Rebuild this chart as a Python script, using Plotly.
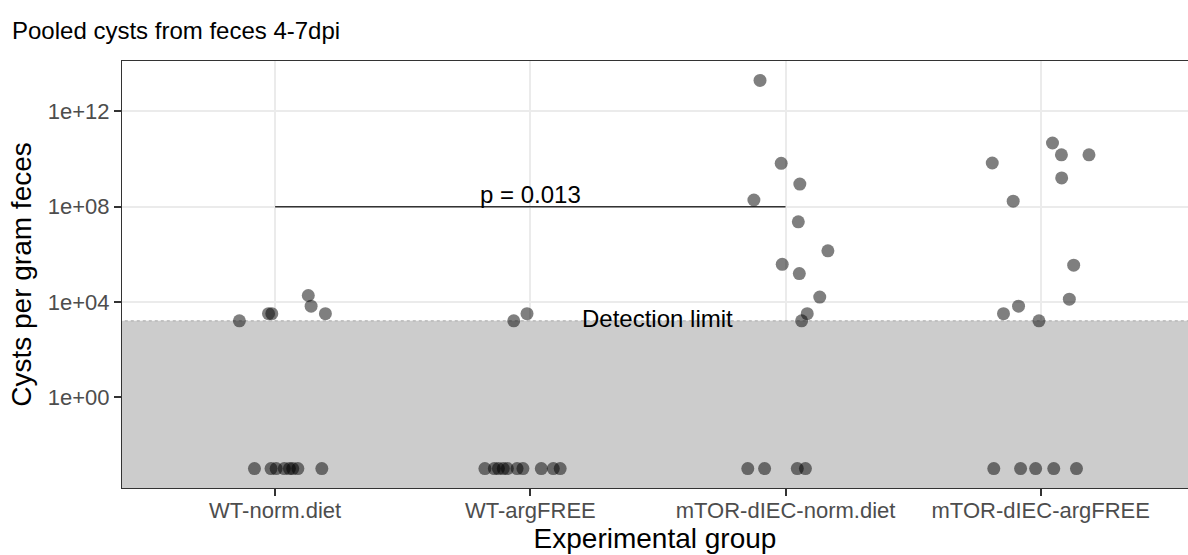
import numpy as np
import plotly.graph_objects as go

# ---------------- data ----------------
groups = ["WT-norm.diet", "WT-argFREE", "mTOR-dIEC-norm.diet", "mTOR-dIEC-argFREE"]

# cysts per gram feces (0 = below detection, plotted at a pseudo value)
wt_norm_values = [1600, 3200, 3200, 18600, 6600, 3200, 0, 0, 0, 0, 0, 0, 0, 0]
wt_norm_jitter = [-0.14, -0.026, -0.013, 0.13, 0.141, 0.197,
                  -0.081, -0.016, 0.004, 0.036, 0.056, 0.069, 0.089, 0.183]

wt_arg_values = [1600, 3200, 0, 0, 0, 0, 0, 0, 0, 0, 0, 0]
wt_arg_jitter = [-0.065, -0.013,
                 -0.178, -0.141, -0.125, -0.106, -0.090, -0.052, -0.029, 0.043, 0.090, 0.117]

mtor_norm_values = [2.0e13, 6.6e9, 8.9e8, 1.9e8, 2.3e7, 1.4e6, 3.8e5, 1.55e5, 1.6e4, 3200, 1600,
                    0, 0, 0, 0]
mtor_norm_jitter = [-0.10, -0.017, 0.056, -0.124, 0.05, 0.166, -0.013, 0.054, 0.134, 0.085, 0.063,
                    -0.148, -0.082, 0.046, 0.078]

mtor_arg_values = [4.7e10, 1.5e10, 1.5e10, 6.8e9, 1.6e9, 1.7e8, 3.5e5, 1.3e4, 6600, 3200, 1600,
                   0, 0, 0, 0, 0]
mtor_arg_jitter = [0.046, 0.081, 0.189, -0.19, 0.082, -0.108, 0.129, 0.112, -0.087, -0.146, -0.007,
                   -0.184, -0.079, -0.020, 0.051, 0.14]

zero_plot_value = 1e-3
detection_limit = 1600
y_tick_values = [1, 1e4, 1e8, 1e12]
y_tick_labels = ["1e+00", "1e+04", "1e+08", "1e+12"]
p_label = "p = 0.013"
p_y = 1e8
p_groups = (0, 2)

series = [
    (wt_norm_values, wt_norm_jitter),
    (wt_arg_values, wt_arg_jitter),
    (mtor_norm_values, mtor_norm_jitter),
    (mtor_arg_values, mtor_arg_jitter),
]

FONT = "Liberation Sans, Arial, sans-serif"
XRANGE = [-0.6, 3.577]

fig = go.Figure()

all_y = []
for vals in (s[0] for s in series):
    all_y += [v if v > 0 else zero_plot_value for v in vals]
lmin, lmax = np.log10(min(all_y)), np.log10(max(all_y))
pad = 0.05 * (lmax - lmin)
yrange = [lmin - pad, lmax + pad]
y_bottom = 10 ** (yrange[0] - 1)

# detection-limit region (above grid, below points)
fig.add_trace(go.Scatter(
    x=[XRANGE[0] - 1, XRANGE[1] + 1, XRANGE[1] + 1, XRANGE[0] - 1, XRANGE[0] - 1],
    y=[y_bottom, y_bottom, detection_limit, detection_limit, y_bottom],
    mode="lines", fill="toself", fillcolor="#CCCCCC", line=dict(width=0),
    showlegend=False, hoverinfo="skip"))
fig.add_trace(go.Scatter(
    x=[XRANGE[0] - 1, XRANGE[1] + 1], y=[detection_limit, detection_limit],
    mode="lines", line=dict(color="#A8A8A8", width=1, dash="3px,3px"),
    showlegend=False, hoverinfo="skip"))

# significance line
fig.add_trace(go.Scatter(
    x=[p_groups[0], p_groups[1]], y=[p_y, p_y], mode="lines",
    line=dict(color="#333333", width=1.5), showlegend=False, hoverinfo="skip"))

for gi, (vals, jit) in enumerate(series):
    yv = [v if v > 0 else zero_plot_value for v in vals]
    xv = [gi + j for j in jit]
    fig.add_trace(go.Scatter(
        x=xv, y=yv, mode="markers",
        marker=dict(size=13, color="rgba(0,0,0,0.5)", line=dict(width=0)),
        showlegend=False, hoverinfo="skip"))

fig.add_annotation(x=(p_groups[0] + p_groups[1]) / 2, y=np.log10(p_y), text=p_label,
                   showarrow=False, yanchor="bottom", yshift=-3,
                   font=dict(family=FONT, size=24, color="black"))
fig.add_annotation(x=1.5, y=np.log10(detection_limit), text="Detection limit",
                   showarrow=False, yanchor="middle", yshift=2,
                   font=dict(family=FONT, size=24, color="black"))

fig.update_layout(
    width=1188, height=555,
    margin=dict(l=122, r=0, t=61, b=67),
    paper_bgcolor="white", plot_bgcolor="white",
    font=dict(family=FONT),
    title=dict(text="Pooled cysts from feces 4-7dpi", x=12 / 1188, xanchor="left",
               y=1 - 31 / 555, yanchor="middle",
               font=dict(family=FONT, size=24, color="black")),
)

fig.update_xaxes(
    range=XRANGE, tickvals=list(range(len(groups))), ticktext=groups,
    showgrid=True, gridcolor="#EBEBEB", gridwidth=2, zeroline=False,
    showline=True, linecolor="#333333", linewidth=1, mirror=True,
    ticks="outside", ticklen=7, tickwidth=1.5, tickcolor="#333333",
    ticklabelstandoff=-4,
    tickfont=dict(family=FONT, size=22, color="#4D4D4D"),
    title=dict(text="Experimental group", standoff=4,
               font=dict(family=FONT, size=28, color="black")),
)
fig.update_yaxes(
    type="log", range=yrange, tickvals=y_tick_values, ticktext=y_tick_labels,
    showgrid=True, gridcolor="#EBEBEB", gridwidth=2, zeroline=False,
    showline=True, linecolor="#333333", linewidth=1, mirror=False,
    ticks="outside", ticklen=7, tickwidth=1.5, tickcolor="#333333",
    tickfont=dict(family=FONT, size=22, color="#4D4D4D"),
    title=dict(text="Cysts per gram feces", standoff=8,
               font=dict(family=FONT, size=28, color="black")),
)

fig.write_html("out.html")
